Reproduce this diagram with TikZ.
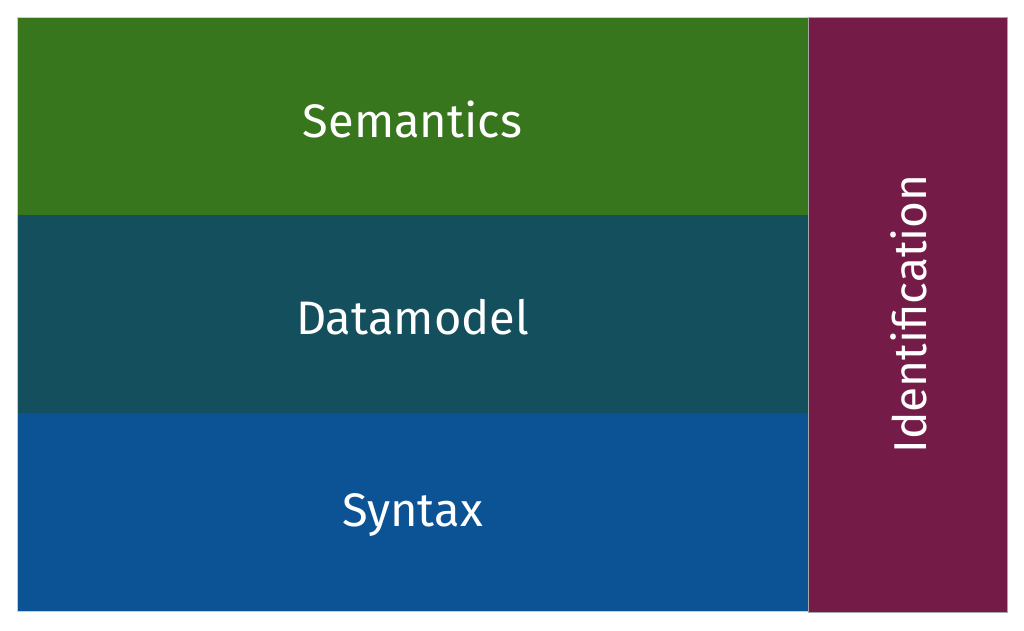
\documentclass[tikz,border=0pt]{standalone}
\usepackage{fontspec}
\setmainfont{Fira Sans}
\definecolor{cgreen}{HTML}{38761D}
\definecolor{cteal}{HTML}{134F5C}
\definecolor{cblue}{HTML}{0B5394}
\definecolor{cmag}{HTML}{741B47}
\begin{document}
\begin{tikzpicture}[x=1pt,y=-1pt,
  lbl/.style={text=white,font=\fontsize{47}{56}\selectfont,inner sep=0pt}]
\useasboundingbox[fill=white] (0,0) rectangle (1024,630);
\fill[cgreen] (17,17) rectangle (808,215);
\fill[cteal] (17,215) rectangle (808,413);
\fill[cblue] (17,413) rectangle (808,611);
\draw[gray!40,line width=0.6pt] (17,17) rectangle (808,611);
\fill[cmag] (808,17) rectangle (1007,612);
\draw[gray!70,line width=0.8pt] (808,17) rectangle (1007,612);
\node[lbl] (sem) at (412.5,119) {Semantics};
\node[lbl] (dat) at (412.5,317) {Datamodel};
\node[lbl] (syn) at (412.5,515) {Syntax};
\node[lbl,font=\fontsize{46}{55}\selectfont,rotate=90] (ide) at (909,314) {Identification};
\end{tikzpicture}
\end{document}
